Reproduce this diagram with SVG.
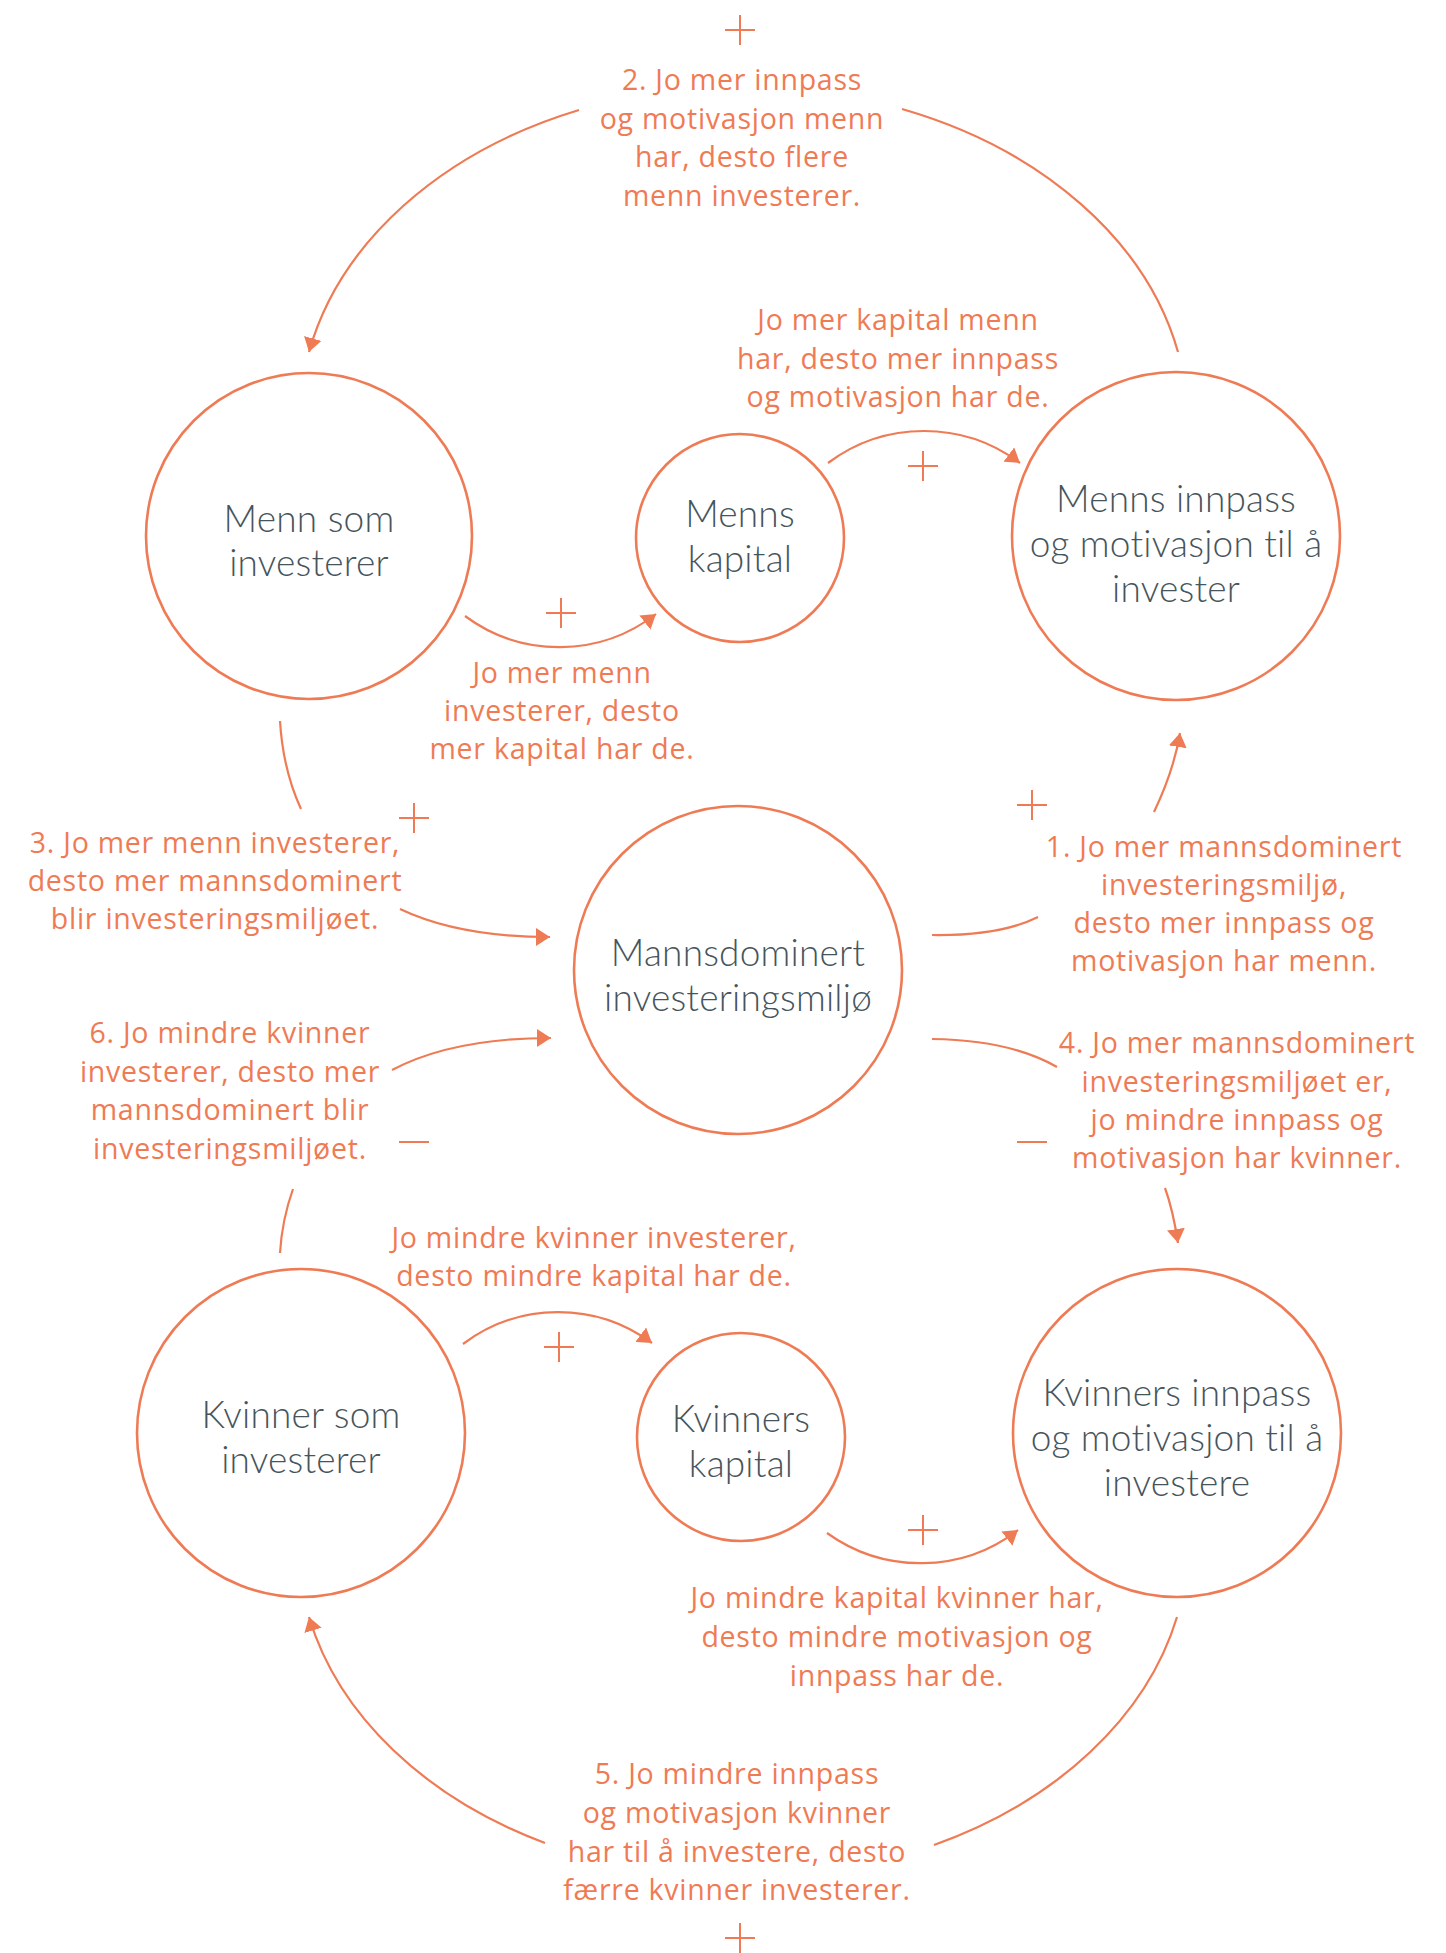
<svg xmlns="http://www.w3.org/2000/svg" width="1446" height="1953" viewBox="0 0 1446 1953">
<defs>
<style>
.node{fill:#fff;stroke:#EF7B55;stroke-width:2.6}
.nt{font-family:Lato,"Open Sans",sans-serif;font-weight:300;font-size:37px;letter-spacing:0.2px;fill:#46555C;text-anchor:middle}
.lbl{font-family:"Open Sans",Lato,sans-serif;font-weight:400;font-size:28.5px;letter-spacing:0.75px;fill:#EF7B55;text-anchor:middle}
.c{fill:none;stroke:#EF7B55;stroke-width:2.2}
.sign{stroke:#EF7B55;stroke-width:2;fill:none}
</style>
<marker id="ah" markerUnits="userSpaceOnUse" markerWidth="16" markerHeight="18" refX="14" refY="9" orient="auto">
<path d="M0,0 L14,9 L0,18 z" fill="#EF7B55"/>
</marker>
</defs>
<rect width="1446" height="1953" fill="#fff"/>

<g id="connectors">
<path class="c" d="M1178,352 A445,335 0 0 0 902,109"/>
<path class="c" d="M579,110 A445,335 0 0 0 309,352" marker-end="url(#ah)"/>
<path class="c" d="M1177,1617 A445,335 0 0 1 934,1845"/>
<path class="c" d="M545,1843 A445,335 0 0 1 309,1617" marker-end="url(#ah)"/>
<path class="c" d="M465,616 A158,158 0 0 0 656,614" marker-end="url(#ah)"/>
<path class="c" d="M828,463 A160,160 0 0 1 1020,463" marker-end="url(#ah)"/>
<path class="c" d="M463,1344 A158,158 0 0 1 652,1343" marker-end="url(#ah)"/>
<path class="c" d="M827,1533 A160,160 0 0 0 1018,1530" marker-end="url(#ah)"/>
<path class="c" d="M280,721 Q283,770 301,809"/>
<path class="c" d="M400,909 C440,928 490,937 550,937" marker-end="url(#ah)"/>
<path class="c" d="M280,1253 Q282,1220 293,1189"/>
<path class="c" d="M392,1070 C430,1050 480,1038 551,1038" marker-end="url(#ah)"/>
<path class="c" d="M932,935 Q1000,936 1038,917"/>
<path class="c" d="M1154,812 Q1174,770 1180,733" marker-end="url(#ah)"/>
<path class="c" d="M932,1039 Q1010,1040 1057,1067"/>
<path class="c" d="M1165,1188 Q1173,1210 1178,1243" marker-end="url(#ah)"/>
</g>

<g id="signs">
<path class="sign" d="M725,30 h30 M740,15 v30"/>
<path class="sign" d="M908,466 h30 M923,451 v30"/>
<path class="sign" d="M546,613 h30 M561,598 v30"/>
<path class="sign" d="M399,818 h30 M414,803 v30"/>
<path class="sign" d="M1017,805 h30 M1032,790 v30"/>
<path class="sign" d="M399,1142 h30"/>
<path class="sign" d="M1017,1142 h30"/>
<path class="sign" d="M544,1347 h30 M559,1332 v30"/>
<path class="sign" d="M908,1530 h30 M923,1515 v30"/>
<path class="sign" d="M725,1938 h30 M740,1923 v30"/>
</g>

<g id="node-menn-som">
<circle class="node" cx="309" cy="536" r="163"/>
<text class="nt" x="309" y="532">Menn som</text>
<text class="nt" x="309" y="576">investerer</text>
</g>
<g id="node-menns-kapital">
<circle class="node" cx="740" cy="538" r="104"/>
<text class="nt" x="740" y="527">Menns</text>
<text class="nt" x="740" y="572">kapital</text>
</g>
<g id="node-menns-innpass">
<circle class="node" cx="1176" cy="536" r="164"/>
<text class="nt" x="1176" y="512">Menns innpass</text>
<text class="nt" x="1176" y="557">og motivasjon til å</text>
<text class="nt" x="1176" y="602">invester</text>
</g>
<g id="node-mannsdominert">
<circle class="node" cx="738" cy="970" r="164"/>
<text class="nt" x="738" y="966">Mannsdominert</text>
<text class="nt" x="738" y="1011">investeringsmiljø</text>
</g>
<g id="node-kvinner-som">
<circle class="node" cx="301" cy="1433" r="164"/>
<text class="nt" x="301" y="1428">Kvinner som</text>
<text class="nt" x="301" y="1473">investerer</text>
</g>
<g id="node-kvinners-kapital">
<circle class="node" cx="741" cy="1437" r="104"/>
<text class="nt" x="741" y="1432">Kvinners</text>
<text class="nt" x="741" y="1477">kapital</text>
</g>
<g id="node-kvinners-innpass">
<circle class="node" cx="1177" cy="1433" r="164"/>
<text class="nt" x="1177" y="1406">Kvinners innpass</text>
<text class="nt" x="1177" y="1451">og motivasjon til å</text>
<text class="nt" x="1177" y="1496">investere</text>
</g>

<g id="labels">
<text class="lbl"><tspan x="742" y="90">2. Jo mer innpass</tspan><tspan x="742" y="128.5">og motivasjon menn</tspan><tspan x="742" y="167">har, desto flere</tspan><tspan x="742" y="205.5">menn investerer.</tspan></text>
<text class="lbl"><tspan x="898" y="330">Jo mer kapital menn</tspan><tspan x="898" y="369">har, desto mer innpass</tspan><tspan x="898" y="407">og motivasjon har de.</tspan></text>
<text class="lbl"><tspan x="562" y="683">Jo mer menn</tspan><tspan x="562" y="721">investerer, desto</tspan><tspan x="562" y="759">mer kapital har de.</tspan></text>
<text class="lbl"><tspan x="215" y="853">3. Jo mer menn investerer,</tspan><tspan x="215" y="891">desto mer mannsdominert</tspan><tspan x="215" y="929">blir investeringsmiljøet.</tspan></text>
<text class="lbl"><tspan x="1224" y="857">1. Jo mer mannsdominert</tspan><tspan x="1224" y="895">investeringsmiljø,</tspan><tspan x="1224" y="933">desto mer innpass og</tspan><tspan x="1224" y="971">motivasjon har menn.</tspan></text>
<text class="lbl"><tspan x="230" y="1043">6. Jo mindre kvinner</tspan><tspan x="230" y="1082">investerer, desto mer</tspan><tspan x="230" y="1120">mannsdominert blir</tspan><tspan x="230" y="1159">investeringsmiljøet.</tspan></text>
<text class="lbl"><tspan x="1237" y="1053">4. Jo mer mannsdominert</tspan><tspan x="1237" y="1092">investeringsmiljøet er,</tspan><tspan x="1237" y="1130">jo mindre innpass og</tspan><tspan x="1237" y="1168">motivasjon har kvinner.</tspan></text>
<text class="lbl"><tspan x="594" y="1248">Jo mindre kvinner investerer,</tspan><tspan x="594" y="1286">desto mindre kapital har de.</tspan></text>
<text class="lbl"><tspan x="897" y="1608">Jo mindre kapital kvinner har,</tspan><tspan x="897" y="1647">desto mindre motivasjon og</tspan><tspan x="897" y="1686">innpass har de.</tspan></text>
<text class="lbl"><tspan x="737" y="1784">5. Jo mindre innpass</tspan><tspan x="737" y="1823">og motivasjon kvinner</tspan><tspan x="737" y="1862">har til å investere, desto</tspan><tspan x="737" y="1900">færre kvinner investerer.</tspan></text>
</g>
</svg>
